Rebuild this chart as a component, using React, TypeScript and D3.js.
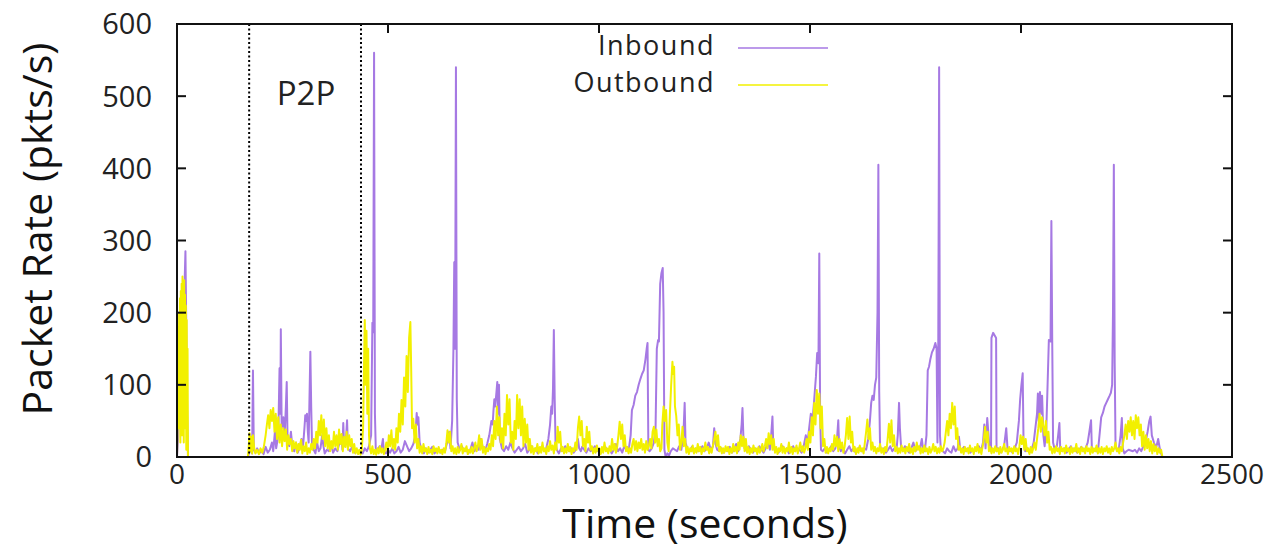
import React from "react";
import * as d3 from "d3";

const inboundT = [0,3,6,9,12,14,16,18,20,22,24,26,
168,172,176,178,180,182,186,190,195,200,205,210,215,220,225,228,232,235,240,243,245,246,248,252,255,258,260,262,266,270,274,278,282,286,290,295,298,302,304,306,308,310,312,316,318,320,324,328,332,336,340,344,347,350,355,360,365,370,375,380,385,390,392,394,396,400,403,405,410,415,420,425,430,436,
440,445,450,455,460,463,465,467,469,471,475,480,484,488,490,495,500,505,510,515,520,525,530,535,540,545,550,555,560,565,568,570,572,575,580,585,590,595,600,605,610,615,620,625,630,635,640,645,648,652,655,657,659,661,663,665,670,675,680,685,690,695,700,
705,710,715,720,725,730,735,740,745,748,750,752,754,757,759,761,763,765,770,775,780,785,790,795,800,805,810,815,820,825,830,835,840,845,850,855,860,865,870,875,880,884,887,889,891,893,895,897,900,905,910,915,920,925,930,935,940,945,950,953,957,960,965,970,975,980,985,990,995,1000,
1005,1010,1015,1020,1025,1030,1035,1040,1045,1050,1055,1060,1065,1070,1075,1078,1082,1086,1090,1094,1098,1102,1106,1110,1113,1115,1117,1120,1125,1130,1134,1137,1140,1142,1145,1148,1151,1153,1155,1158,1162,1166,1170,1175,1180,1185,1190,1195,1200,1203,1205,1210,1215,1220,1225,1230,1235,1240,1245,1250,1255,1260,1265,1270,1273,1276,1280,1285,1290,1295,1300,
1305,1310,1315,1320,1325,1330,1335,1338,1340,1342,1345,1350,1355,1360,1365,1370,1375,1380,1385,1390,1395,1400,1405,1408,1411,1413,1417,1420,1425,1430,1435,1440,1445,1450,1455,1460,1465,1470,1475,1480,1485,1490,1494,1498,1502,1506,1510,1514,1517,1520,1522,1524,1526,1530,1535,1540,1545,1550,1555,1560,1564,1567,1569,1573,1578,1583,1588,1593,1598,1603,1608,1613,1618,1623,1628,1633,1638,1642,1645,1648,1651,1654,1657,1660,1662,1664,1666,1670,1675,1680,1685,1690,1695,1700,
1705,1708,1711,1713,1716,1720,1725,1730,1735,1740,1745,1750,1755,1760,1765,1768,1772,1776,1779,1782,1785,1789,1793,1797,1800,1802,1804,1806,1808,1810,1815,1820,1825,1830,1835,1840,1845,1850,1853,1856,1860,1865,1870,1875,1880,1885,1890,1895,1900,1905,1910,1913,1916,1920,1925,1929,1930,1934,1938,1941,1942,1946,1950,1955,1960,1965,1968,1972,1976,1980,1985,1990,1995,1998,2001,2004,2006,2010,
2015,2020,2025,2030,2035,2038,2040,2042,2045,2048,2050,2053,2056,2060,2063,2066,2070,2072,2074,2076,2080,2085,2088,2091,2093,2098,2103,2108,2113,2118,2123,2128,2133,2138,2143,2148,2153,2158,2162,2166,2168,2172,2177,2182,2186,2190,2194,2198,2202,2206,2210,2213,2216,2218,2220,2222,2224,2228,2232,2236,2239,2241,2245,2250,2255,2260,2265,2270,2275,2280,2285,2290,2295,2300,2304,2307,2310,2315,2320,2325,2330,2335];

const inboundV = [0,30,90,150,176,170,200,240,285,180,60,0,
0,8,20,5,120,10,6,12,5,9,4,14,6,10,20,8,35,12,30,123,60,177,40,55,30,70,104,20,15,35,10,8,20,6,12,25,10,40,58,50,60,35,20,146,70,15,10,5,20,8,12,30,15,5,10,8,18,6,12,8,20,30,10,47,15,20,51,12,8,14,6,10,5,8,
5,12,8,15,30,186,173,560,60,12,8,15,10,25,8,5,10,6,12,5,8,14,6,10,22,15,8,12,18,30,61,45,55,20,8,5,12,6,10,14,5,8,12,6,10,8,20,35,12,50,148,270,150,540,80,20,10,15,8,12,5,10,20,
8,15,10,25,12,8,18,30,50,45,65,80,70,90,104,60,100,25,12,8,15,10,20,12,6,10,14,8,12,18,6,10,15,8,12,5,10,15,8,12,25,45,70,60,95,176,80,20,10,5,12,8,15,10,8,12,6,10,25,12,8,14,10,6,12,8,10,15,8,12,
6,10,14,8,12,5,10,18,8,12,6,15,10,8,30,65,72,85,90,100,108,115,120,135,150,158,10,8,12,20,40,150,162,160,240,255,262,200,10,0,5,2,8,12,10,8,15,10,30,75,20,10,8,14,6,12,8,10,15,8,12,20,10,15,40,18,10,8,12,6,10,
8,14,6,10,18,8,25,45,68,30,12,8,15,10,6,12,8,15,10,6,12,20,10,30,56,15,8,12,6,10,15,8,12,5,10,15,8,12,10,6,15,30,20,40,60,50,80,111,144,130,282,60,10,8,12,6,10,15,8,12,25,51,15,8,12,5,10,15,8,12,6,10,14,8,12,10,25,50,75,85,79,100,110,201,405,90,15,8,12,6,10,15,8,12,
10,30,75,40,12,8,15,10,6,12,20,8,15,10,25,10,8,30,120,125,135,145,150,158,150,20,160,540,30,10,8,5,12,8,6,15,8,12,28,10,10,14,8,12,6,10,8,12,15,8,20,45,12,54,15,8,165,172,168,165,8,12,6,10,15,40,12,8,10,6,12,20,50,80,100,116,20,8,
12,6,10,20,45,60,88,50,90,60,85,30,15,40,100,162,160,327,160,20,10,15,30,47,10,8,12,6,10,15,8,12,6,10,14,8,12,20,35,51,10,8,12,6,30,55,61,70,75,80,85,89,100,201,405,130,15,8,12,30,54,12,5,8,10,9,8,10,6,12,8,15,20,35,50,56,30,20,12,25,8,0];

const outboundT = [0,2,3,4,5,6,7,8,9,10,11,12,13,14,15,16,17,18,19,20,21,22,23,24,25,26,
168,170,172,174,176,178,180,183,186,190,194,198,202,206,210,213,216,219,222,225,228,231,234,237,240,243,246,249,252,255,258,261,264,267,270,273,276,279,282,285,288,291,294,297,300,303,306,309,312,315,318,321,324,327,330,333,336,339,342,345,348,351,354,357,360,363,366,369,372,375,378,381,384,387,390,393,396,399,402,405,408,411,414,417,420,423,426,429,432,435,
438,441,443,445,447,449,451,453,455,457,460,463,466,469,472,475,478,481,484,487,490,493,496,499,502,505,508,511,514,517,520,523,526,529,532,535,538,541,544,547,550,553,555,557,560,563,566,569,572,575,578,581,584,587,590,593,596,599,602,605,608,611,614,617,620,623,626,629,632,635,638,641,644,647,650,653,656,659,662,665,668,671,674,677,680,683,686,689,692,695,698,
701,704,707,710,713,716,719,722,725,728,731,734,737,740,743,746,749,752,755,758,761,764,767,770,773,776,779,782,785,788,791,794,797,800,803,806,809,812,815,818,821,824,827,830,833,836,839,842,845,848,851,854,857,860,863,866,869,872,875,878,881,884,887,890,893,896,899,902,905,908,911,914,917,920,923,926,929,932,935,938,941,944,947,950,953,956,959,962,965,968,971,974,977,980,983,986,989,992,995,998,
1001,1004,1007,1010,1013,1016,1019,1022,1025,1028,1031,1034,1037,1040,1043,1046,1049,1052,1055,1058,1061,1064,1067,1070,1073,1076,1079,1082,1085,1088,1091,1094,1097,1100,1103,1106,1109,1112,1115,1118,1121,1124,1127,1130,1133,1136,1139,1142,1145,1148,1150,1153,1156,1159,1162,1165,1168,1171,1174,1176,1178,1180,1183,1186,1189,1192,1195,1198,1201,1204,1207,1210,1213,1216,1219,1222,1225,1228,1231,1234,1237,1240,1243,1246,1249,1252,1255,1258,1261,1264,1267,1270,1273,1276,1279,1282,1285,1288,1291,1294,1297,1300,
1303,1306,1309,1312,1315,1318,1321,1324,1327,1330,1333,1336,1339,1342,1345,1348,1351,1354,1357,1360,1363,1366,1369,1372,1375,1378,1381,1384,1387,1390,1393,1396,1399,1402,1405,1408,1411,1414,1417,1420,1423,1426,1429,1432,1435,1438,1441,1444,1447,1450,1453,1456,1459,1462,1465,1468,1471,1474,1477,1480,1483,1486,1489,1492,1495,1498,1501,1504,1507,1510,1513,1516,1519,1522,1525,1528,1531,1534,1537,1540,1543,1546,1549,1552,1555,1558,1561,1564,1567,1570,1573,1576,1579,1582,1585,1588,1591,1594,1597,1600,
1603,1606,1609,1612,1615,1618,1621,1624,1627,1630,1633,1636,1639,1642,1645,1648,1651,1654,1657,1660,1663,1666,1669,1672,1675,1678,1681,1684,1687,1690,1693,1696,1699,1702,1705,1708,1711,1714,1717,1720,1723,1726,1729,1732,1735,1738,1741,1744,1747,1750,1753,1756,1759,1762,1765,1768,1771,1774,1777,1780,1783,1786,1789,1792,1795,1798,1801,1804,1807,1810,1813,1816,1819,1822,1825,1828,1831,1834,1837,1840,1843,1846,1849,1852,1855,1858,1861,1864,1867,1870,1873,1876,1879,1882,1885,1888,1891,1894,1897,1900,
1903,1906,1909,1912,1915,1918,1921,1924,1927,1930,1933,1936,1939,1942,1945,1948,1951,1954,1957,1960,1963,1966,1969,1972,1975,1978,1981,1984,1987,1990,1993,1996,1999,2002,2005,2008,2011,2014,2017,2020,2023,2026,2029,2032,2035,2038,2041,2044,2047,2050,2053,2056,2059,2062,2065,2068,2071,2074,2077,2080,2083,2086,2089,2092,2095,2098,2101,2104,2107,2110,2113,2116,2119,2122,2125,2128,2131,2134,2137,2140,2143,2146,2149,2152,2155,2158,2161,2164,2167,2170,2173,2176,2179,2182,2185,2188,2191,2194,2197,2200,2203,2206,2209,2212,2215,2218,2221,2224,2227,2230,2233,2236,2239,2242,2245,2248,2251,2254,2257,2260,2263,2266,2269,2272,2275,2278,2281,2284,2287,2290,2293,2296,2299,2302,2305,2308,2311,2314,2317,2320,2323,2326,2329,2332,2335];

const outboundV = [0,60,180,40,200,90,220,20,230,60,240,30,250,80,235,20,245,100,225,40,210,10,190,30,150,0,
0,15,33,8,28,5,30,12,5,10,4,12,6,15,30,45,58,40,65,50,68,35,60,25,55,20,45,15,40,22,38,10,30,18,25,8,22,12,20,6,18,10,24,5,15,8,20,4,12,6,18,10,25,12,35,20,50,30,58,25,52,15,40,12,30,8,22,12,35,15,30,10,38,18,32,8,28,14,35,10,30,15,25,6,18,5,12,4,10,3,
10,40,120,190,100,175,60,150,30,12,5,15,4,10,3,12,5,15,6,12,4,10,20,8,30,15,37,12,25,10,40,20,60,35,79,45,110,70,140,90,165,187,120,40,53,20,45,12,25,6,15,5,18,8,12,4,14,6,10,4,15,8,12,5,14,6,10,4,12,6,18,37,20,35,8,15,5,12,4,14,6,10,18,5,12,8,15,4,10,6,14,
5,12,20,8,15,30,10,25,6,14,4,12,8,18,10,30,15,50,25,70,30,55,20,40,12,60,30,86,45,80,20,35,10,50,25,86,40,80,30,70,15,53,20,45,10,25,6,15,4,12,8,18,5,14,6,20,8,12,4,15,8,22,10,16,5,20,10,42,20,35,8,14,5,12,6,18,8,14,4,12,8,20,10,40,56,30,50,15,25,8,42,20,35,10,15,5,12,6,16,8,
12,4,14,6,20,8,12,5,15,8,25,10,18,6,14,30,49,25,45,15,30,8,14,5,12,6,18,25,10,22,8,20,12,25,10,18,6,22,10,15,25,12,35,42,20,38,15,25,8,12,45,70,50,65,20,8,60,100,132,115,125,70,57,30,45,10,20,42,15,25,6,14,4,12,8,16,5,12,6,18,8,14,4,12,8,20,10,14,5,12,6,16,25,35,15,30,8,14,5,12,6,15,
8,14,4,12,6,18,8,14,5,20,10,30,15,28,8,25,6,14,4,12,6,16,8,12,4,14,6,10,18,8,15,25,12,33,18,30,10,25,6,14,4,12,8,18,6,14,5,12,8,20,6,14,4,12,8,16,5,12,20,8,15,6,12,25,10,35,20,55,30,75,45,93,60,88,40,70,15,25,6,14,5,12,8,18,10,30,15,28,8,25,12,20,6,14,30,54,25,56,20,35,
8,14,4,12,6,16,8,12,5,20,35,52,25,40,10,20,8,14,5,12,8,18,6,12,4,14,8,25,46,20,51,15,30,8,14,5,12,6,16,8,12,5,14,8,18,6,12,4,14,8,20,10,15,5,12,6,16,8,12,4,14,6,10,18,8,14,5,12,6,15,8,12,20,35,50,30,60,40,75,45,70,25,40,10,15,6,12,4,14,8,12,5,16,8,12,4,14,8,18,6,
12,4,14,25,42,20,35,8,14,5,12,6,15,8,12,4,14,6,10,18,8,12,4,14,8,12,5,15,8,12,4,14,30,18,28,10,25,8,12,4,14,6,12,20,10,25,40,60,35,55,42,30,50,20,35,10,14,5,12,6,15,8,12,4,14,8,12,5,16,8,12,4,14,6,12,8,18,6,12,4,14,8,12,5,15,8,12,4,14,6,12,8,16,5,12,6,14,4,12,8,15,6,12,4,14,8,12,20,8,12,5,14,8,20,30,45,25,50,35,55,30,50,25,58,40,55,30,45,15,35,10,30,12,25,8,22,5,18,8,15,4,12,6,10,0];

const xTicks = [0, 500, 1000, 1500, 2000, 2500];
const yTicks = [0, 100, 200, 300, 400, 500, 600];
const phaseMarks = [171, 436];
const seriesNames = ["Inbound", "Outbound"];
const seriesColors = ["#a679e3", "#f2f000"];

export default function App() {
  const W = 1273, H = 556;
  const left = 177, right = 1232, top = 24, bottom = 457;
  const x = d3.scaleLinear().domain([0, 2500]).range([left, right]);
  const y = d3.scaleLinear().domain([0, 600]).range([bottom, top]);
  const line = d3.line<[number, number]>().x(d => x(d[0])).y(d => y(d[1]));
  const inbound: [number, number][] = inboundT.map((t, i) => [t, inboundV[i] ?? 0]);
  const outbound: [number, number][] = outboundT.map((t, i) => [t, outboundV[i] ?? 0]);
  const font = "'Open Sans', 'Noto Sans', sans-serif";
  const tick = 9;
  return (
    <svg width={W} height={H} style={{ position: "absolute", left: 0, top: 0, background: "#fff" }} fontFamily={font}>
      <rect x={0} y={0} width={W} height={H} fill="#fff" />
      <path d={line(inbound) ?? ""} fill="none" stroke={seriesColors[0]} strokeWidth={2} strokeLinejoin="round" />
      <path d={line(outbound) ?? ""} fill="none" stroke={seriesColors[1]} strokeWidth={2} strokeLinejoin="round" />
      {phaseMarks.map(t => (
        <line key={t} x1={x(t)} x2={x(t)} y1={top} y2={bottom} stroke="#000" strokeWidth={2} strokeDasharray="2,2.5" />
      ))}
      <text x={306} y={105} fontSize={33} textAnchor="middle" fill="#222">P2P</text>
      {seriesNames.map((n, i) => (
        <g key={n}>
          <text x={715} y={55 + i * 37} fontSize={27} letterSpacing={1.5} textAnchor="end" fill="#222">{n}</text>
          <line x1={738} x2={828} y1={48 + i * 37} y2={48 + i * 37} stroke={seriesColors[i]} strokeWidth={1.5} />
        </g>
      ))}
      <rect x={left} y={top} width={right - left} height={bottom - top} fill="none" stroke="#111" strokeWidth={2} />
      {yTicks.map(v => (
        <g key={"y" + v}>
          <line x1={left} x2={left + tick} y1={y(v)} y2={y(v)} stroke="#111" strokeWidth={2} />
          <line x1={right} x2={right - tick} y1={y(v)} y2={y(v)} stroke="#111" strokeWidth={2} />
          <text x={152} y={y(v)} dy="0.36em" fontSize={29} textAnchor="end" fill="#222">{v}</text>
        </g>
      ))}
      {xTicks.map(v => (
        <g key={"x" + v}>
          <line x1={x(v)} x2={x(v)} y1={bottom} y2={bottom - tick} stroke="#111" strokeWidth={2} />
          <line x1={x(v)} x2={x(v)} y1={top} y2={top + tick} stroke="#111" strokeWidth={2} />
          <text x={x(v)} y={484} fontSize={28} textAnchor="middle" fill="#222">{v}</text>
        </g>
      ))}
      <text x={705} y={538} fontSize={41} textAnchor="middle" fill="#111">Time (seconds)</text>
      <text transform={`translate(52,229) rotate(-90)`} fontSize={41} textAnchor="middle" fill="#111">Packet Rate (pkts/s)</text>
    </svg>
  );
}
